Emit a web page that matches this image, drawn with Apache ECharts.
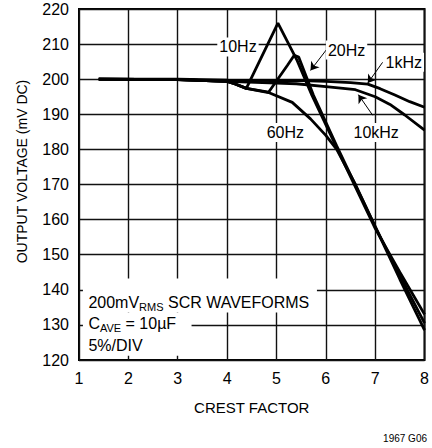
<!DOCTYPE html>
<html>
<head>
<meta charset="utf-8">
<title>crest factor</title>
<script src="https://cdn.jsdelivr.net/npm/echarts@6/dist/echarts.min.js"></script>
</head>
<body style="margin:0;background:#fff">
<div id="main" style="width:432px;height:448px;"></div>
<script type="text/javascript">
// crest factor (x) against output voltage in mV DC, one pair of arrays per curve
var cf10Hz  = [1.4, 3, 4, 4.15, 4.39, 5.03, 5.42, 5.72, 6.22, 7, 7.5, 8];
var mv10Hz  = [200, 199.9, 199.4, 198.7, 197.4, 216, 205.3, 195.4, 180.5, 157.5, 145, 133];

var cf20Hz  = [1.4, 3, 4, 4.15, 4.39, 4.84, 5.22, 5.36, 5.45, 5.75, 6.22, 7, 7.5, 8];
var mv20Hz  = [200, 199.9, 199.4, 198.7, 197.4, 196.3, 203.9, 206.8, 206.3, 195.4, 181, 158, 144, 130.5];

var cf60Hz  = [1.4, 3, 4, 4.15, 4.39, 4.84, 5.32, 5.69, 6, 6.22, 6.6, 7, 7.5, 8];
var mv60Hz  = [200, 199.9, 199.4, 198.7, 197.4, 196.2, 193.4, 188.7, 184, 180, 170, 158, 143, 128.5];

var cf1kHz  = [1.4, 3, 4, 5, 5.5, 6, 6.5, 6.85, 7.1, 7.4, 7.7, 8];
var mv1kHz  = [200, 200, 199.7, 199.6, 199.6, 199.4, 199, 198.6, 197.3, 195.5, 193.6, 192];

var cf10kHz = [1.4, 3, 4, 5, 5.4, 6, 6.6, 7, 7.3, 7.6, 8];
var mv10kHz = [200, 199.9, 199.4, 198.9, 198.7, 197.9, 197, 195, 192.8, 189.8, 185.5];

// curve names and where their labels sit (data coordinates)
var tagText = ['10Hz', '20Hz', '1kHz', '60Hz', '10kHz'];
var tagX    = [4.22, 6.42, 7.58, 5.18, 7.02];
var tagY    = [209.2, 208.3, 204.8, 184.8, 184.8];

// leader arrows: from label to curve
var arrowFrom = [[6.05, 209.1], [7.15, 204.8], [6.95, 189.7]];
var arrowTo   = [[5.69, 202.5], [6.85, 198.9], [6.66, 195.6]];

// note block lines
var noteLines = ['200mV{s|RMS} SCR WAVEFORMS', 'C{s|AVE} = 10µF', '5%/DIV'];
var noteY     = [136.4, 130.3, 124.0];

var FONT = 'Liberation Sans, Arial, sans-serif';

function pairs(xs, ys) {
    var out = [];
    for (var i = 0; i < xs.length; i++) out.push([xs[i], ys[i]]);
    return out;
}

function curve(xs, ys) {
    return {
        type: 'line',
        data: pairs(xs, ys),
        symbol: 'none',
        lineStyle: { color: '#000', width: 2.8 }
    };
}

var sub = { fontSize: 11, fontFamily: FONT, color: '#000', verticalAlign: 'bottom', lineHeight: 15 };

var points = [];
for (var k = 0; k < tagText.length; k++) {
    points.push({
        coord: [tagX[k], tagY[k]],
        label: {
            show: true, position: 'inside', formatter: tagText[k],
            color: '#000', fontFamily: FONT, fontSize: 16,
            backgroundColor: '#fff', padding: [2, 2, 1, 2]
        }
    });
}
for (var n = 0; n < noteLines.length; n++) {
    points.push({
        coord: [1.18, noteY[n]],
        label: {
            show: true, position: 'right', distance: 0, formatter: noteLines[n],
            color: '#000', fontFamily: FONT, fontSize: 16, lineHeight: 20,
            rich: { s: sub }
        }
    });
}

var arrows = [];
for (var a = 0; a < arrowFrom.length; a++) {
    arrows.push([{ coord: arrowFrom[a] }, { coord: arrowTo[a] }]);
}

var s10 = curve(cf10Hz, mv10Hz);
s10.markPoint = {
    symbol: 'circle',
    symbolSize: 1,
    itemStyle: { color: 'rgba(0,0,0,0)' },
    data: points
};
s10.markLine = {
    symbol: ['none', 'arrow'],
    symbolSize: 8,
    label: { show: false },
    lineStyle: { color: '#000', width: 1, type: 'solid' },
    data: arrows
};
// white panels behind the note block
s10.markArea = {
    itemStyle: { color: '#fff', opacity: 1 },
    label: { show: false },
    data: [
        [{ coord: [1.08, 143.2] }, { coord: [5.82, 133.5] }],
        [{ coord: [1.08, 133.5] }, { coord: [3.28, 121.2] }]
    ]
};

// svg renderer this time
var myChart = echarts.init(document.getElementById('main'), null, { renderer: 'svg' });

var option = {
    backgroundColor: '#fff',
    animation: false,
    title: {
        text: '1967 G06',
        right: 0,
        bottom: 0,
        textStyle: { color: '#000', fontFamily: FONT, fontSize: 10, fontWeight: 'normal' }
    },
    grid: {
        left: 79,
        right: 3,
        top: 9,
        bottom: 88,
        show: true,
        borderColor: '#000',
        borderWidth: 2
    },
    xAxis: {
        type: 'value',
        min: 1,
        max: 8,
        interval: 1,
        name: 'CREST FACTOR',
        nameLocation: 'middle',
        nameGap: 40,
        nameTextStyle: { color: '#000', fontFamily: FONT, fontSize: 15 },
        axisLine: { show: false },
        axisTick: { show: false },
        axisLabel: { color: '#000', fontFamily: FONT, fontSize: 16, margin: 10 },
        splitLine: { show: true, lineStyle: { color: '#111', width: 1.4 } }
    },
    yAxis: {
        type: 'value',
        min: 120,
        max: 220,
        interval: 10,
        name: 'OUTPUT VOLTAGE (mV DC)',
        nameLocation: 'middle',
        nameGap: 50,
        nameTextStyle: { color: '#000', fontFamily: FONT, fontSize: 14, padding: [0, 0, 0, 26] },
        axisLine: { show: false },
        axisTick: { show: false },
        axisLabel: { color: '#000', fontFamily: FONT, fontSize: 16, margin: 10 },
        splitLine: { show: true, lineStyle: { color: '#111', width: 1.4 } }
    },
    series: [
        s10,
        curve(cf20Hz, mv20Hz),
        curve(cf60Hz, mv60Hz),
        curve(cf1kHz, mv1kHz),
        curve(cf10kHz, mv10kHz)
    ]
};

myChart.setOption(option);
</script>
</body>
</html>
